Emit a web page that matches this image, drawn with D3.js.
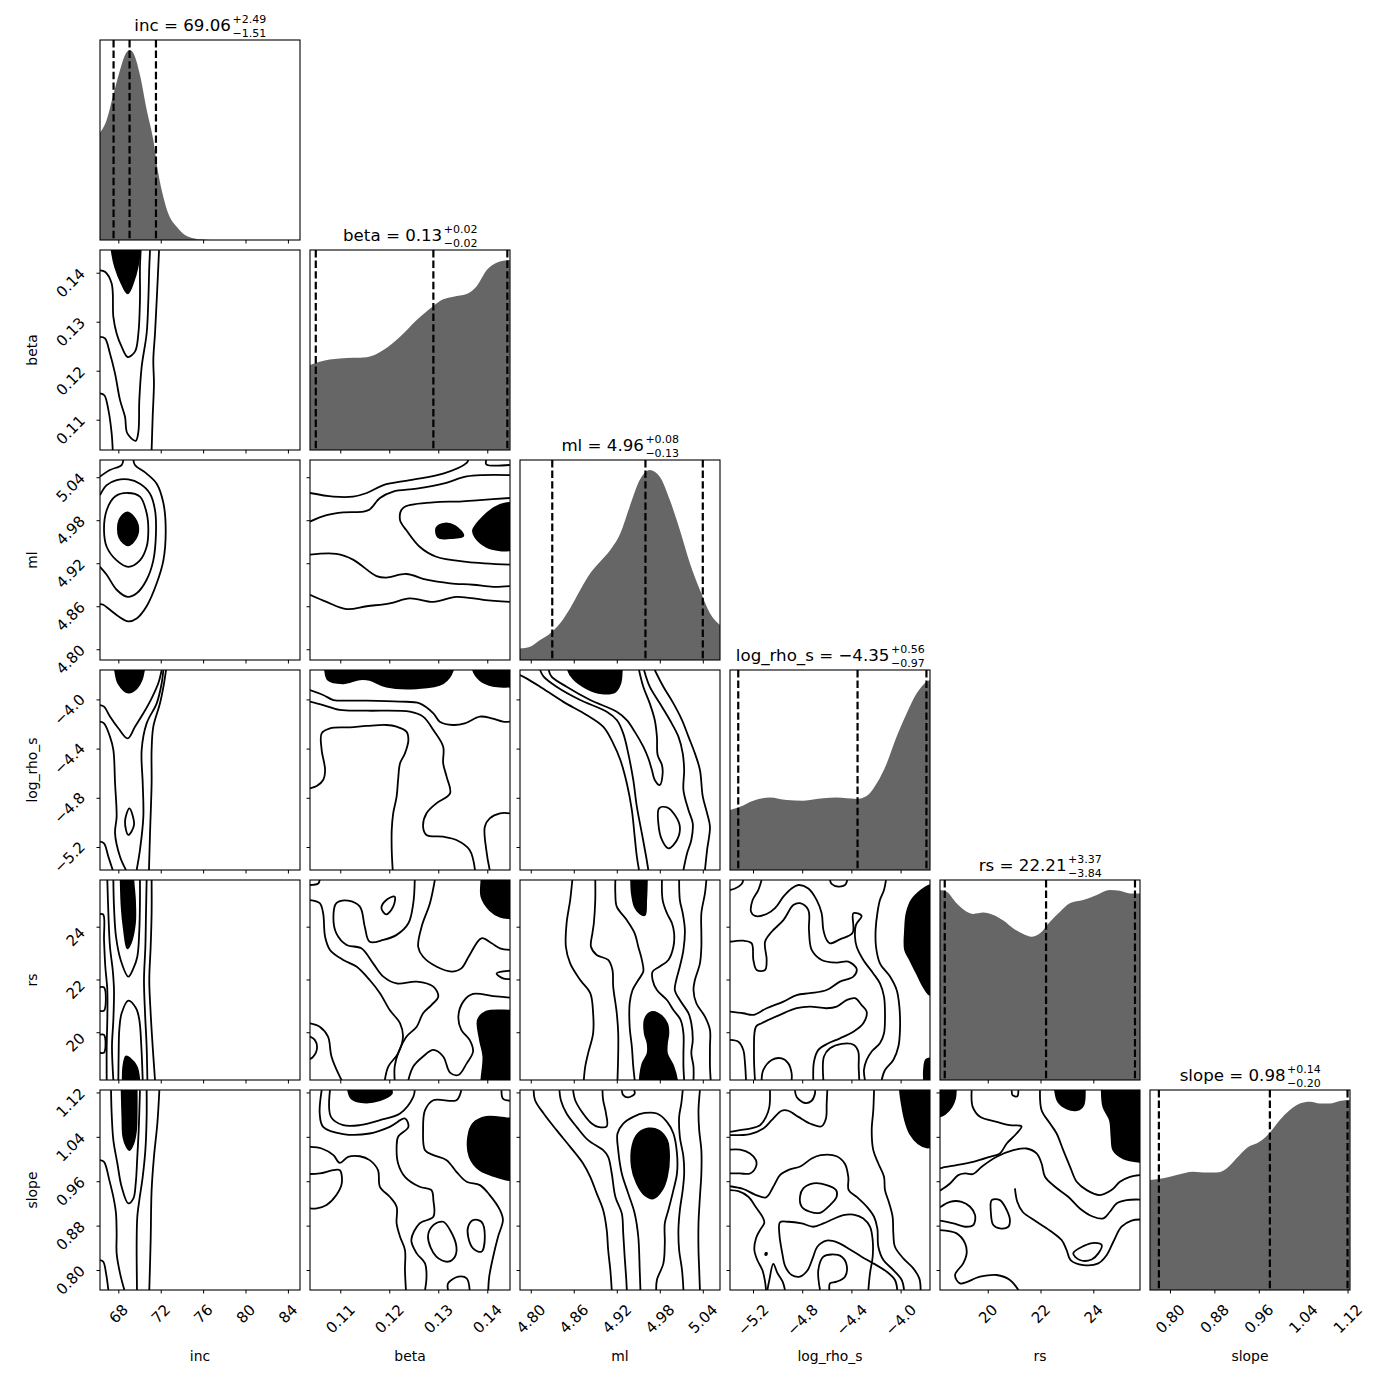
<!DOCTYPE html>
<html><head><meta charset="utf-8">
<script src="https://cdn.jsdelivr.net/npm/d3@7"></script>
<style>body{margin:0;background:#fff}text{font-family:"DejaVu Sans",sans-serif;fill:#000}</style>
</head><body><svg id="c" width="1390" height="1390"></svg>
<script>
// ---------------- data ----------------
const params = ["inc","beta","ml","log_rho_s","rs","slope"];
const ranges = [[66.27,85.14],[0.10382,0.14464],[4.785,5.064],[-5.387,-3.761],[18.19,25.77],[0.764,1.1244]];
const ticks = [[68,72,76,80,84],[0.11,0.12,0.13,0.14],[4.80,4.86,4.92,4.98,5.04],[-5.2,-4.8,-4.4,-4.0],[20,22,24],[0.80,0.88,0.96,1.04,1.12]];
const tickFormats = [".0f",".2f",".2f",".1f",".0f",".2f"];
const q16 = [67.55,0.1050,4.83,-5.32,18.37,0.78];
const q50 = [69.06,0.1290,4.96,-4.35,22.21,0.98];
const q84 = [71.55,0.1441,5.04,-3.79,25.58,1.12];

// histogram outlines [value, relative height]
const hist_inc = [[66.27,0.565],[66.90,0.632],[67.52,0.763],[68.16,0.895],[68.63,0.974],[69.10,1.0],[69.57,0.965],[70.04,0.868],[70.68,0.684],[71.30,0.526],[71.77,0.351],[72.24,0.228],[72.71,0.140],[73.51,0.070],[74.29,0.026],[75.07,0.009],[76.02,0.002],[76.65,0],[85.14,0]];
const hist_beta = [[0.1038,0.447],[0.1058,0.465],[0.1099,0.482],[0.1154,0.488],[0.1188,0.526],[0.1222,0.596],[0.1256,0.684],[0.1290,0.758],[0.1310,0.793],[0.1331,0.807],[0.1358,0.821],[0.1378,0.860],[0.1399,0.947],[0.1419,0.986],[0.1446,1.0]];
const hist_ml = [[4.785,0.061],[4.799,0.070],[4.813,0.105],[4.827,0.140],[4.841,0.193],[4.855,0.272],[4.869,0.368],[4.883,0.456],[4.897,0.518],[4.911,0.579],[4.925,0.667],[4.938,0.807],[4.952,0.947],[4.966,1.0],[4.980,0.965],[4.994,0.842],[5.008,0.684],[5.022,0.509],[5.036,0.368],[5.050,0.246],[5.064,0.184]];
const hist_lr = [[-5.387,0.316],[-5.306,0.333],[-5.198,0.365],[-5.062,0.382],[-4.926,0.368],[-4.791,0.365],[-4.628,0.377],[-4.520,0.381],[-4.357,0.374],[-4.276,0.389],[-4.194,0.456],[-4.113,0.561],[-4.032,0.702],[-3.950,0.825],[-3.869,0.930],[-3.788,0.991],[-3.761,1.0]];
const hist_rs = [[18.19,1.0],[18.44,0.991],[18.82,0.930],[19.20,0.886],[19.45,0.874],[19.83,0.881],[20.21,0.868],[20.59,0.839],[20.97,0.798],[21.35,0.768],[21.66,0.754],[21.98,0.772],[22.36,0.833],[22.74,0.886],[23.11,0.930],[23.62,0.947],[24.13,0.974],[24.63,1.0],[25.01,0.996],[25.39,0.982],[25.77,0.982]];
const hist_slope = [[0.764,0.579],[0.788,0.588],[0.812,0.605],[0.842,0.623],[0.866,0.618],[0.884,0.618],[0.902,0.640],[0.920,0.693],[0.938,0.746],[0.962,0.781],[0.980,0.828],[0.998,0.895],[1.016,0.947],[1.034,0.982],[1.052,0.991],[1.070,0.982],[1.088,0.982],[1.106,0.995],[1.124,1.0]];

// contours: t = "L" open line, "O" closed loop, "F" filled region; p = [x value, y value]
const c_inc_beta = [
 {t:"F",p:[[67.37,0.1446],[67.69,0.1412],[68.31,0.1378],[68.88,0.1358],[69.42,0.1381],[69.82,0.1412],[70.04,0.1446],[70.1,0.147],[67.3,0.147]]},
 {t:"L",p:[[66.27,0.1405],[66.74,0.1402],[67.37,0.1378],[67.53,0.1310],[67.84,0.1276],[68.31,0.1249],[68.88,0.1228],[69.57,0.1239],[69.89,0.1276],[70.04,0.1344],[70.04,0.1412],[70.11,0.1446]]},
 {t:"L",p:[[66.27,0.1269],[66.74,0.1266],[67.21,0.1235],[67.69,0.1194],[68.16,0.1140],[68.63,0.1106],[68.85,0.1072],[69.64,0.1057],[69.89,0.1075],[69.98,0.1140],[70.20,0.1208],[70.67,0.1276],[70.83,0.1344],[70.92,0.1412],[70.99,0.1446]]},
 {t:"L",p:[[66.27,0.1154],[66.68,0.1150],[67.06,0.1120],[67.37,0.1072],[67.47,0.1038]]},
 {t:"L",p:[[71.14,0.1038],[71.24,0.1106],[71.36,0.1174],[71.30,0.1222],[71.46,0.1276],[71.62,0.1344],[71.77,0.1412],[71.84,0.1446]]}
];
const c_inc_ml = [
 {t:"F",p:[[68.09,4.980],[68.85,4.991],[69.73,4.978],[69.79,4.959],[68.94,4.945],[68.09,4.956]]},
 {t:"O",p:[[66.65,4.966],[66.90,4.994],[67.69,5.013],[68.88,5.018],[70.04,5.013],[70.67,4.990],[70.83,4.966],[70.67,4.943],[70.04,4.924],[68.94,4.915],[67.84,4.924],[66.90,4.943]]},
 {t:"L",p:[[66.27,5.015],[66.90,5.029],[67.84,5.036],[68.94,5.037],[70.04,5.031],[70.99,5.017],[71.46,4.994],[71.55,4.962],[71.30,4.924],[70.67,4.897],[69.73,4.878],[68.88,4.873],[67.84,4.883],[66.90,4.904],[66.27,4.915]]},
 {t:"L",p:[[66.27,5.041],[67.21,5.050],[68.31,5.057],[68.47,5.064]]},
 {t:"L",p:[[69.42,5.064],[69.57,5.057],[70.67,5.045],[71.62,5.031],[72.25,5.004],[72.47,4.966],[72.25,4.924],[71.62,4.892],[70.67,4.860],[69.73,4.843],[68.94,4.839],[68.0,4.846],[67.21,4.855],[66.58,4.862],[66.27,4.863]]}
];
const c_inc_lr = [
 {t:"F",p:[[67.69,-3.761],[68.0,-3.869],[68.94,-3.945],[69.73,-3.910],[70.20,-3.842],[70.42,-3.761],[70.5,-3.70],[67.6,-3.70]]},
 {t:"L",p:[[66.27,-4.046],[66.65,-4.059],[67.21,-4.140],[68.0,-4.235],[68.88,-4.317],[69.57,-4.222],[70.36,-4.113],[71.14,-3.991],[71.77,-3.869],[72.09,-3.761]]},
 {t:"L",p:[[66.27,-4.181],[66.65,-4.195],[67.21,-4.303],[67.53,-4.411],[67.69,-4.682],[67.84,-4.953],[67.69,-5.089],[68.16,-5.279],[68.72,-5.387]]},
 {t:"L",p:[[69.73,-5.387],[70.04,-5.224],[70.36,-4.953],[70.30,-4.682],[70.20,-4.411],[70.67,-4.195],[71.62,-4.032],[72.09,-3.869],[72.25,-3.761]]},
 {t:"L",p:[[70.89,-5.387],[70.99,-5.089],[71.14,-4.682],[71.14,-4.411],[71.30,-4.222],[71.93,-4.032],[72.31,-3.869],[72.50,-3.761]]},
 {t:"O",p:[[69.04,-4.886],[69.48,-5.021],[68.94,-5.102],[68.63,-4.994]]},
 {t:"L",p:[[66.27,-5.157],[66.65,-5.170],[67.06,-5.279],[67.47,-5.387]]}
];
const c_inc_rs = [
 {t:"F",p:[[68.22,25.77],[68.31,24.76],[68.53,23.88],[68.85,23.18],[69.16,23.37],[69.57,24.13],[69.57,25.01],[69.42,25.77],[69.42,26.2],[68.2,26.2]]},
 {t:"F",p:[[68.41,18.19],[68.47,18.70],[68.72,19.08],[69.10,19.01],[69.73,18.70],[69.98,18.19],[70.0,17.8],[68.4,17.8]]},
 {t:"L",p:[[67.53,25.77],[67.59,24.76],[67.78,23.62],[68.22,22.74],[68.94,22.11],[69.42,22.42],[69.79,22.86],[69.98,23.88],[70.04,25.01],[70.04,25.77]]},
 {t:"L",p:[[68.0,18.19],[68.03,19.20],[68.09,20.09],[68.31,20.72],[68.94,21.20],[69.67,20.91],[69.98,20.47],[70.17,19.46],[70.30,18.19]]},
 {t:"L",p:[[66.96,25.77],[67.06,24.51],[67.21,23.24],[67.47,22.36],[67.59,21.60],[67.53,20.47],[67.40,19.46],[67.53,18.19]]},
 {t:"L",p:[[66.27,24.48],[66.58,24.46],[66.65,23.50],[66.77,22.49],[66.96,21.60],[66.96,20.47],[66.90,19.46],[66.90,18.19]]},
 {t:"L",p:[[70.67,25.77],[70.61,24.51],[70.55,23.24],[70.42,21.98],[70.52,20.72],[70.67,19.46],[70.74,18.19]]},
 {t:"L",p:[[71.14,25.77],[71.14,24.51],[71.05,23.24],[70.92,21.98],[71.05,20.72],[71.24,19.46],[71.46,18.19]]},
 {t:"L",p:[[66.2,21.70],[66.65,21.70],[66.65,20.82],[66.2,20.82]]},
 {t:"L",p:[[66.2,19.90],[66.65,19.90],[66.65,19.23],[66.2,19.23]]}
];
const c_inc_slope = [
 {t:"F",p:[[68.31,1.124],[68.38,1.076],[68.47,1.040],[68.79,1.022],[69.04,1.016],[69.42,1.028],[69.67,1.052],[69.73,1.088],[69.73,1.124],[69.73,1.135],[68.3,1.135]]},
 {t:"L",p:[[67.31,1.124],[67.37,1.082],[67.53,1.034],[67.91,0.992],[68.31,0.950],[68.94,0.920],[69.42,0.929],[69.64,0.956],[69.79,1.004],[69.92,1.052],[70.04,1.124]]},
 {t:"L",p:[[66.27,0.998],[66.65,0.995],[67.15,0.962],[67.59,0.926],[67.78,0.902],[67.84,0.866],[67.84,0.830],[68.16,0.794],[68.57,0.764]]},
 {t:"L",p:[[70.67,1.124],[70.67,1.076],[70.55,1.016],[70.30,0.968],[69.98,0.926],[69.79,0.896],[69.73,0.854],[69.76,0.764]]},
 {t:"L",p:[[66.27,0.818],[66.58,0.815],[66.84,0.794],[67.06,0.764]]},
 {t:"L",p:[[71.87,1.124],[71.68,1.064],[71.36,1.004],[71.14,0.944],[71.05,0.854],[70.92,0.764]]}
];
const c_beta_ml = [
 {t:"F",p:[[0.1446,5.004],[0.1419,4.999],[0.1392,4.985],[0.1371,4.966],[0.1375,4.957],[0.1398,4.943],[0.1426,4.938],[0.1446,4.938],[0.147,4.94],[0.147,5.0]]},
 {t:"F",p:[[0.1296,4.969],[0.1310,4.975],[0.1334,4.972],[0.1351,4.958],[0.1324,4.955],[0.1300,4.956]]},
 {t:"L",p:[[0.1038,5.018],[0.1086,5.013],[0.1126,5.013],[0.1154,5.018],[0.1188,5.029],[0.1242,5.036],[0.1310,5.045],[0.1358,5.060],[0.1361,5.064]]},
 {t:"L",p:[[0.1398,5.064],[0.1398,5.058],[0.1446,5.057]]},
 {t:"L",p:[[0.1038,4.978],[0.1072,4.987],[0.1106,4.991],[0.1147,4.992],[0.1160,4.995],[0.1181,5.011],[0.1208,5.020],[0.1256,5.024],[0.1310,5.031],[0.1358,5.041],[0.1392,5.043],[0.1446,5.043]]},
 {t:"L",p:[[0.1446,5.011],[0.1385,5.008],[0.1344,5.006],[0.1290,5.005],[0.1228,4.997],[0.1222,4.980],[0.1235,4.966],[0.1262,4.943],[0.1296,4.929],[0.1358,4.922],[0.1446,4.918]]},
 {t:"L",p:[[0.1038,4.932],[0.1092,4.933],[0.1126,4.925],[0.1174,4.902],[0.1194,4.900],[0.1235,4.905],[0.1276,4.897],[0.1324,4.892],[0.1371,4.890],[0.1412,4.887],[0.1446,4.888]]},
 {t:"L",p:[[0.1038,4.876],[0.1072,4.866],[0.1113,4.856],[0.1154,4.860],[0.1201,4.864],[0.1242,4.871],[0.1290,4.866],[0.1337,4.873],[0.1392,4.869],[0.1446,4.866]]}
];
const c_beta_lr = [
 {t:"F",p:[[0.1069,-3.761],[0.1075,-3.842],[0.1106,-3.869],[0.1140,-3.837],[0.1160,-3.842],[0.1194,-3.897],[0.1256,-3.910],[0.1310,-3.869],[0.1330,-3.761],[0.1330,-3.7],[0.1069,-3.7]]},
 {t:"F",p:[[0.1371,-3.761],[0.1385,-3.842],[0.1412,-3.891],[0.1446,-3.897],[0.147,-3.897],[0.147,-3.7],[0.1371,-3.7]]},
 {t:"L",p:[[0.1038,-3.924],[0.1065,-3.964],[0.1086,-4.005],[0.1120,-4.010],[0.1154,-4.010],[0.1222,-4.018],[0.1262,-4.032],[0.1290,-4.113],[0.1303,-4.181],[0.1330,-4.208],[0.1354,-4.195],[0.1385,-4.140],[0.1409,-4.154],[0.1432,-4.181],[0.1446,-4.181]]},
 {t:"L",p:[[0.1038,-4.018],[0.1065,-4.046],[0.1099,-4.086],[0.1154,-4.092],[0.1242,-4.100],[0.1269,-4.140],[0.1290,-4.249],[0.1310,-4.384],[0.1310,-4.520],[0.1317,-4.628],[0.1324,-4.764],[0.1296,-4.845],[0.1276,-4.926],[0.1269,-5.035],[0.1276,-5.102],[0.1310,-5.116],[0.1337,-5.143],[0.1364,-5.224],[0.1375,-5.387]]},
 {t:"L",p:[[0.1038,-4.723],[0.1052,-4.704],[0.1065,-4.655],[0.1069,-4.574],[0.1062,-4.411],[0.1062,-4.276],[0.1079,-4.235],[0.1120,-4.227],[0.1154,-4.216],[0.1194,-4.208],[0.1215,-4.222],[0.1235,-4.262],[0.1239,-4.330],[0.1232,-4.439],[0.1222,-4.520],[0.1218,-4.655],[0.1215,-4.791],[0.1208,-4.926],[0.1205,-5.062],[0.1205,-5.224],[0.1207,-5.387]]},
 {t:"L",p:[[0.1446,-4.926],[0.1426,-4.926],[0.1405,-4.967],[0.1395,-5.035],[0.1398,-5.224],[0.1405,-5.387]]}
];
const c_beta_rs = [
 {t:"F",p:[[0.1388,25.77],[0.1388,25.14],[0.1405,24.63],[0.1426,24.38],[0.1446,24.32],[0.147,24.32],[0.147,26.2],[0.1388,26.2]]},
 {t:"F",p:[[0.147,20.82],[0.1446,20.82],[0.1398,20.78],[0.1381,20.47],[0.1385,19.71],[0.1392,19.08],[0.1388,18.19],[0.1388,17.8],[0.147,17.8]]},
 {t:"L",p:[[0.1038,25.58],[0.1055,25.64],[0.1058,25.77]]},
 {t:"O",p:[[0.1184,24.70],[0.1194,25.01],[0.1211,25.14],[0.1208,24.76],[0.1194,24.47]]},
 {t:"L",p:[[0.1038,25.01],[0.1058,24.89],[0.1065,24.51],[0.1069,23.62],[0.1079,23.12],[0.1106,22.74],[0.1133,22.49],[0.1160,21.98],[0.1181,21.48],[0.1201,20.84],[0.1222,20.34],[0.1228,19.83],[0.1218,19.20],[0.1198,18.70],[0.1191,18.19]]},
 {t:"L",p:[[0.1252,25.77],[0.1249,24.89],[0.1239,24.13],[0.1215,23.69],[0.1188,23.50],[0.1160,23.43],[0.1150,24.00],[0.1140,24.76],[0.1116,24.99],[0.1092,24.89],[0.1086,24.38],[0.1092,23.75],[0.1113,23.31],[0.1143,23.18],[0.1167,22.61],[0.1188,22.11],[0.1215,21.85],[0.1256,21.92],[0.1290,21.73],[0.1300,21.35],[0.1286,21.03],[0.1269,20.72],[0.1256,20.21],[0.1235,19.83],[0.1218,19.20],[0.1211,18.70],[0.1211,18.19]]},
 {t:"L",p:[[0.1293,25.77],[0.1283,24.89],[0.1266,24.00],[0.1259,23.24],[0.1269,22.86],[0.1296,22.49],[0.1327,22.30],[0.1347,22.42],[0.1364,22.93],[0.1388,23.56],[0.1409,23.37],[0.1426,23.18],[0.1446,23.12]]},
 {t:"L",p:[[0.147,22.33],[0.1446,22.33],[0.1419,22.23],[0.1432,22.04],[0.1446,22.01],[0.147,22.01]]},
 {t:"L",p:[[0.1446,21.31],[0.1412,21.37],[0.1371,21.45],[0.1351,21.16],[0.1341,20.59],[0.1347,20.09],[0.1364,19.71],[0.1371,19.27],[0.1358,18.82],[0.1341,18.38],[0.1324,18.47],[0.1310,19.08],[0.1290,19.33],[0.1269,19.08],[0.1249,18.70],[0.1239,18.19]]},
 {t:"L",p:[[0.1038,20.34],[0.1058,20.21],[0.1075,19.83],[0.1082,19.08],[0.1099,18.32],[0.1103,18.19]]},
 {t:"L",p:[[0.1030,19.90],[0.1048,19.71],[0.1052,19.33],[0.1041,19.01],[0.1030,19.01]]}
];
const c_beta_slope = [
 {t:"F",p:[[0.1116,1.124],[0.1123,1.109],[0.1147,1.102],[0.1181,1.106],[0.1205,1.118],[0.1205,1.124],[0.1205,1.135],[0.1116,1.135]]},
 {t:"F",p:[[0.147,1.073],[0.1446,1.073],[0.1398,1.076],[0.1371,1.064],[0.1361,1.040],[0.1364,1.004],[0.1385,0.980],[0.1419,0.968],[0.1446,0.962],[0.147,0.962]]},
 {t:"L",p:[[0.1429,1.124],[0.1432,1.109],[0.1446,1.105]]},
 {t:"L",p:[[0.1079,1.124],[0.1081,1.076],[0.1106,1.061],[0.1140,1.061],[0.1181,1.070],[0.1222,1.082],[0.1249,1.112],[0.1252,1.124]]},
 {t:"L",p:[[0.1062,1.124],[0.1058,1.082],[0.1065,1.058],[0.1106,1.045],[0.1160,1.046],[0.1201,1.058],[0.1232,1.073],[0.1239,1.058],[0.1218,1.040],[0.1215,1.022],[0.1218,0.992],[0.1232,0.968],[0.1262,0.950],[0.1286,0.944],[0.1290,0.926],[0.1290,0.896],[0.1262,0.884],[0.1245,0.854],[0.1256,0.830],[0.1273,0.812],[0.1276,0.788],[0.1273,0.764]]},
 {t:"L",p:[[0.1038,1.022],[0.1062,1.019],[0.1086,1.007],[0.1099,0.993],[0.1116,1.004],[0.1140,1.005],[0.1160,0.998],[0.1177,0.980],[0.1181,0.950],[0.1201,0.932],[0.1215,0.914],[0.1215,0.884],[0.1222,0.860],[0.1232,0.836],[0.1232,0.800],[0.1234,0.764]]},
 {t:"L",p:[[0.1038,0.973],[0.1058,0.974],[0.1086,0.980],[0.1099,0.980],[0.1103,0.956],[0.1092,0.935],[0.1072,0.917],[0.1052,0.911],[0.1038,0.911]]},
 {t:"L",p:[[0.1347,1.124],[0.1337,1.106],[0.1290,1.106],[0.1273,1.088],[0.1269,1.052],[0.1273,1.016],[0.1290,1.007],[0.1317,0.998],[0.1337,0.977],[0.1358,0.959],[0.1385,0.953],[0.1405,0.935],[0.1426,0.908],[0.1432,0.890],[0.1422,0.860],[0.1412,0.824],[0.1404,0.788],[0.1402,0.764]]},
 {t:"O",p:[[0.1279,0.860],[0.1290,0.881],[0.1310,0.887],[0.1324,0.872],[0.1337,0.842],[0.1334,0.824],[0.1320,0.815],[0.1296,0.824]]},
 {t:"O",p:[[0.1361,0.878],[0.1371,0.890],[0.1388,0.887],[0.1395,0.860],[0.1388,0.833],[0.1371,0.839],[0.1361,0.860]]},
 {t:"L",p:[[0.1320,0.764],[0.1320,0.776],[0.1341,0.788],[0.1358,0.785],[0.1364,0.764]]}
];
const c_ml_lr = [
 {t:"F",p:[[4.852,-3.761],[4.859,-3.829],[4.878,-3.910],[4.899,-3.951],[4.918,-3.937],[4.925,-3.869],[4.927,-3.761],[4.927,-3.70],[4.852,-3.70]]},
 {t:"L",p:[[4.785,-3.802],[4.794,-3.829],[4.813,-3.897],[4.845,-4.018],[4.878,-4.127],[4.901,-4.222],[4.915,-4.357],[4.925,-4.493],[4.934,-4.682],[4.941,-4.899],[4.945,-5.116],[4.948,-5.279],[4.951,-5.387]]},
 {t:"L",p:[[4.813,-3.761],[4.818,-3.815],[4.836,-3.897],[4.869,-4.005],[4.906,-4.100],[4.920,-4.168],[4.929,-4.276],[4.936,-4.439],[4.943,-4.655],[4.948,-4.872],[4.955,-5.089],[4.961,-5.279],[4.964,-5.387]]},
 {t:"L",p:[[4.825,-3.761],[4.829,-3.815],[4.850,-3.897],[4.883,-4.005],[4.920,-4.100],[4.934,-4.168],[4.945,-4.262],[4.957,-4.384],[4.964,-4.479],[4.969,-4.574],[4.973,-4.655],[4.980,-4.696],[4.984,-4.601],[4.983,-4.533],[4.977,-4.452],[4.976,-4.303],[4.973,-4.168],[4.966,-4.032],[4.957,-3.897],[4.951,-3.761]]},
 {t:"L",p:[[4.958,-3.761],[4.966,-3.897],[4.980,-4.032],[4.994,-4.168],[5.006,-4.303],[5.012,-4.439],[5.014,-4.574],[5.013,-4.737],[5.020,-4.899],[5.026,-5.008],[5.024,-5.143],[5.018,-5.252],[5.013,-5.387]]},
 {t:"L",p:[[4.973,-3.761],[4.985,-3.897],[4.999,-4.032],[5.011,-4.168],[5.020,-4.303],[5.029,-4.439],[5.036,-4.574],[5.040,-4.791],[5.046,-4.926],[5.050,-5.035],[5.046,-5.224],[5.043,-5.387]]},
 {t:"O",p:[[4.979,-4.886],[4.990,-4.878],[5.001,-4.940],[5.008,-5.035],[5.004,-5.143],[4.992,-5.211],[4.983,-5.143],[4.978,-5.008]]}
];
const c_ml_rs = [
 {t:"L",p:[[4.858,25.77],[4.855,25.01],[4.850,24.13],[4.849,23.24],[4.855,22.61],[4.869,21.98],[4.883,21.48],[4.887,20.72],[4.887,19.96],[4.880,19.20],[4.876,18.70],[4.874,18.19]]},
 {t:"L",p:[[4.890,25.77],[4.890,25.01],[4.888,24.13],[4.886,23.75],[4.884,23.24],[4.892,22.93],[4.908,22.74],[4.914,22.36],[4.915,21.73],[4.920,20.72],[4.922,19.96],[4.922,19.20],[4.921,18.19]]},
 {t:"L",p:[[4.918,25.77],[4.918,25.26],[4.920,24.76],[4.934,24.25],[4.945,23.75],[4.950,23.24],[4.955,22.74],[4.957,22.30],[4.950,21.98],[4.942,21.60],[4.938,21.10],[4.938,20.21],[4.941,19.46],[4.943,18.70],[4.945,18.19]]},
 {t:"F",p:[[4.940,25.77],[4.941,25.26],[4.945,24.76],[4.952,24.51],[4.959,24.44],[4.961,25.01],[4.962,25.77],[4.962,26.2],[4.940,26.2]]},
 {t:"F",p:[[4.952,18.19],[4.956,18.82],[4.963,19.20],[4.963,19.58],[4.959,19.96],[4.959,20.47],[4.966,20.74],[4.977,20.72],[4.990,20.34],[4.992,19.96],[4.990,19.58],[4.990,19.20],[4.999,18.70],[5.004,18.19],[5.004,17.8],[4.952,17.8]]},
 {t:"L",p:[[4.983,25.77],[4.984,25.01],[4.990,24.51],[4.997,24.13],[5.000,23.75],[4.999,23.24],[4.992,22.74],[4.980,22.49],[4.970,22.30],[4.970,21.98],[4.976,21.60],[4.990,21.22],[4.999,20.84],[5.009,20.47],[5.013,19.96],[5.013,19.20],[5.013,18.70],[5.014,18.19]]},
 {t:"L",p:[[5.007,25.77],[5.008,25.01],[5.012,24.51],[5.015,23.88],[5.013,23.12],[5.008,22.49],[5.003,21.98],[5.001,21.60],[5.008,21.22],[5.020,20.72],[5.024,20.34],[5.026,19.71],[5.024,19.20],[5.027,18.70],[5.027,18.19]]},
 {t:"L",p:[[5.045,25.77],[5.043,25.26],[5.038,24.51],[5.038,23.75],[5.038,23.24],[5.036,22.61],[5.029,21.98],[5.027,21.60],[5.031,21.10],[5.043,20.59],[5.050,20.09],[5.050,19.46],[5.050,18.70],[5.051,18.19]]}
];
const c_ml_slope = [
 {t:"L",p:[[4.804,1.124],[4.806,1.106],[4.818,1.082],[4.836,1.052],[4.855,1.022],[4.873,0.992],[4.883,0.968],[4.892,0.938],[4.901,0.908],[4.906,0.872],[4.908,0.836],[4.911,0.800],[4.913,0.764]]},
 {t:"L",p:[[4.840,1.124],[4.842,1.106],[4.850,1.082],[4.864,1.058],[4.880,1.034],[4.901,1.016],[4.908,1.004],[4.913,0.974],[4.918,0.932],[4.927,0.902],[4.929,0.866],[4.931,0.824],[4.933,0.788],[4.934,0.764]]},
 {t:"L",p:[[4.859,1.124],[4.862,1.106],[4.873,1.082],[4.885,1.064],[4.894,1.058],[4.906,1.059],[4.905,1.082],[4.901,1.106],[4.900,1.124]]},
 {t:"L",p:[[4.927,1.124],[4.929,1.115],[4.936,1.111],[4.945,1.118],[4.944,1.124]]},
 {t:"L",p:[[4.953,0.764],[4.952,0.800],[4.950,0.860],[4.945,0.902],[4.936,0.938],[4.927,0.974],[4.922,1.016],[4.921,1.046],[4.929,1.064],[4.943,1.076],[4.959,1.083],[4.976,1.082],[4.990,1.067],[4.999,1.046],[5.004,1.010],[5.004,0.974],[4.999,0.944],[4.992,0.908],[4.987,0.884],[4.987,0.848],[4.985,0.812],[4.976,0.782],[4.975,0.764]]},
 {t:"F",p:[[4.942,1.025],[4.950,1.046],[4.964,1.055],[4.978,1.052],[4.990,1.034],[4.993,1.004],[4.990,0.968],[4.983,0.944],[4.971,0.929],[4.959,0.935],[4.948,0.956],[4.941,0.986]]},
 {t:"L",p:[[5.012,1.124],[5.010,1.100],[5.007,1.076],[5.008,1.040],[5.013,1.004],[5.014,0.974],[5.012,0.944],[5.008,0.908],[5.006,0.872],[5.007,0.836],[5.011,0.800],[5.013,0.764]]},
 {t:"L",p:[[5.036,1.124],[5.034,1.088],[5.035,1.052],[5.038,1.016],[5.038,0.974],[5.036,0.932],[5.034,0.884],[5.034,0.836],[5.035,0.800],[5.036,0.764]]}
];
const c_lr_rs = [
 {t:"L",p:[[-5.387,25.39],[-5.346,25.45],[-5.292,25.62],[-5.279,25.77]]},
 {t:"L",p:[[-4.574,25.77],[-4.561,25.62],[-4.506,25.52],[-4.452,25.58],[-4.433,25.77]]},
 {t:"L",p:[[-5.130,25.77],[-5.157,25.39],[-5.203,25.01],[-5.216,24.57],[-5.184,24.41],[-5.089,24.48],[-5.021,24.70],[-4.953,25.14],[-4.886,25.45],[-4.831,25.58],[-4.750,25.45],[-4.682,25.01],[-4.642,24.51],[-4.628,23.88],[-4.601,23.50],[-4.574,23.37],[-4.493,23.52],[-4.390,23.77],[-4.384,24.51],[-4.317,24.41],[-4.363,24.07],[-4.371,23.62],[-4.357,23.24],[-4.303,22.74],[-4.222,22.23],[-4.168,21.85],[-4.135,21.35],[-4.127,20.72],[-4.135,19.96],[-4.168,19.58],[-4.235,19.27],[-4.276,18.95],[-4.298,18.57],[-4.290,18.19]]},
 {t:"L",p:[[-5.387,23.43],[-5.279,23.47],[-5.211,23.37],[-5.197,22.74],[-5.170,22.36],[-5.102,22.36],[-5.089,22.74],[-5.102,23.43],[-5.048,23.81],[-4.953,24.25],[-4.872,24.82],[-4.818,24.89],[-4.750,24.63],[-4.745,23.88],[-4.723,23.12],[-4.642,22.74],[-4.520,22.64],[-4.425,22.68],[-4.357,22.39],[-4.384,22.11],[-4.493,21.92],[-4.601,21.60],[-4.737,21.48],[-4.845,21.41],[-4.953,21.16],[-5.089,20.91],[-5.197,20.66],[-5.279,20.72],[-5.387,20.78]]},
 {t:"L",p:[[-5.387,19.71],[-5.319,19.64],[-5.279,19.33],[-5.265,18.82],[-5.257,18.19]]},
 {t:"L",p:[[-5.184,18.19],[-5.192,19.20],[-5.176,20.21],[-5.130,20.34],[-4.981,20.66],[-4.845,20.91],[-4.737,20.97],[-4.601,20.91],[-4.520,20.97],[-4.439,21.22],[-4.371,21.29],[-4.317,21.03],[-4.276,20.78],[-4.303,20.34],[-4.384,20.02],[-4.493,19.77],[-4.588,19.58],[-4.669,19.33],[-4.704,18.89],[-4.710,18.19]]},
 {t:"L",p:[[-5.130,18.19],[-5.116,18.57],[-5.048,18.95],[-4.967,19.01],[-4.913,18.82],[-4.886,18.44],[-4.886,18.19]]},
 {t:"L",p:[[-4.628,18.19],[-4.623,19.08],[-4.574,19.39],[-4.479,19.56],[-4.379,19.52],[-4.344,19.27],[-4.341,18.70],[-4.336,18.19]]},
 {t:"L",p:[[-4.119,25.77],[-4.135,25.39],[-4.168,25.01],[-4.189,24.51],[-4.203,23.88],[-4.200,23.24],[-4.168,22.61],[-4.086,22.11],[-4.032,21.60],[-4.010,20.97],[-4.005,20.09],[-4.018,19.46],[-4.059,18.95],[-4.127,18.57],[-4.154,18.19]]},
 {t:"F",p:[[-3.70,25.58],[-3.761,25.58],[-3.829,25.39],[-3.910,25.01],[-3.951,24.51],[-3.964,23.88],[-3.964,23.12],[-3.924,22.74],[-3.869,22.23],[-3.815,21.73],[-3.761,21.41],[-3.70,21.41]]},
 {t:"F",p:[[-3.70,19.01],[-3.761,19.01],[-3.794,18.95],[-3.810,18.57],[-3.810,18.19],[-3.810,17.8],[-3.70,17.8]]}
];
const c_lr_slope = [
 {t:"F",p:[[-4.005,1.124],[-3.991,1.100],[-3.964,1.070],[-3.924,1.046],[-3.856,1.028],[-3.788,1.021],[-3.761,1.021],[-3.70,1.021],[-3.70,1.135],[-4.005,1.135]]},
 {t:"L",p:[[-4.859,1.124],[-4.845,1.112],[-4.777,1.101],[-4.723,1.105],[-4.696,1.118],[-4.696,1.124]]},
 {t:"L",p:[[-5.062,1.124],[-5.067,1.094],[-5.094,1.076],[-5.143,1.061],[-5.224,1.055],[-5.306,1.052],[-5.387,1.049]]},
 {t:"L",p:[[-5.387,1.043],[-5.224,1.045],[-5.116,1.055],[-5.048,1.070],[-4.967,1.087],[-4.913,1.087],[-4.831,1.076],[-4.737,1.064],[-4.642,1.059],[-4.607,1.073],[-4.601,1.100],[-4.596,1.124]]},
 {t:"L",p:[[-5.387,1.017],[-5.306,1.017],[-5.224,1.010],[-5.176,0.998],[-5.176,0.986],[-5.224,0.974],[-5.306,0.974],[-5.387,0.974]]},
 {t:"L",p:[[-5.387,0.951],[-5.279,0.946],[-5.184,0.936],[-5.094,0.931],[-5.035,0.950],[-4.981,0.971],[-4.905,0.981],[-4.812,0.987],[-4.723,1.001],[-4.650,1.007],[-4.520,1.005],[-4.452,0.991],[-4.425,0.967],[-4.422,0.944],[-4.352,0.931],[-4.270,0.913],[-4.216,0.896],[-4.189,0.875],[-4.181,0.842],[-4.140,0.818],[-4.059,0.800],[-3.991,0.782],[-3.972,0.764]]},
 {t:"L",p:[[-5.387,0.944],[-5.319,0.942],[-5.238,0.932],[-5.176,0.913],[-5.121,0.895],[-5.108,0.885],[-5.143,0.872],[-5.176,0.857],[-5.189,0.836],[-5.165,0.818],[-5.124,0.800],[-5.102,0.779],[-5.094,0.764]]},
 {t:"L",p:[[-5.083,0.764],[-5.067,0.782],[-5.035,0.811],[-5.002,0.795],[-4.959,0.779],[-4.940,0.764]]},
 {t:"L",p:[[-4.262,0.764],[-4.249,0.794],[-4.227,0.824],[-4.227,0.854],[-4.249,0.878],[-4.303,0.893],[-4.384,0.900],[-4.466,0.899],[-4.547,0.892],[-4.628,0.884],[-4.710,0.878],[-4.804,0.884],[-4.913,0.887],[-4.981,0.886],[-4.986,0.866],[-4.962,0.830],[-4.937,0.806],[-4.886,0.791],[-4.818,0.788],[-4.758,0.799],[-4.715,0.821],[-4.677,0.842],[-4.601,0.853],[-4.506,0.849],[-4.411,0.837],[-4.317,0.824],[-4.222,0.812],[-4.113,0.797],[-4.046,0.782],[-4.027,0.764]]},
 {t:"O",p:[[-4.818,0.932],[-4.791,0.947],[-4.710,0.956],[-4.601,0.953],[-4.525,0.944],[-4.520,0.932],[-4.574,0.917],[-4.655,0.903],[-4.737,0.905],[-4.804,0.914]]},
 {t:"F",p:[[-5.100,0.830],[-5.089,0.831],[-5.088,0.828],[-5.098,0.827]]},
 {t:"L",p:[[-4.655,0.764],[-4.669,0.800],[-4.628,0.824],[-4.561,0.828],[-4.479,0.824],[-4.439,0.809],[-4.452,0.788],[-4.520,0.779],[-4.574,0.776],[-4.579,0.764]]},
 {t:"L",p:[[-4.216,1.124],[-4.222,1.088],[-4.235,1.052],[-4.222,1.016],[-4.181,0.992],[-4.135,0.968],[-4.127,0.944],[-4.092,0.920],[-4.065,0.896],[-4.059,0.866],[-4.046,0.842],[-3.978,0.821],[-3.897,0.803],[-3.848,0.785],[-3.837,0.764]]}
];
const c_rs_slope = [
 {t:"F",p:[[18.79,1.135],[18.79,1.124],[18.76,1.109],[18.63,1.094],[18.38,1.081],[18.19,1.077],[17.9,1.077],[17.9,1.135]]},
 {t:"F",p:[[22.55,1.135],[22.55,1.124],[22.67,1.103],[22.99,1.091],[23.37,1.088],[23.62,1.097],[23.68,1.124],[23.68,1.135]]},
 {t:"F",p:[[24.32,1.135],[24.32,1.124],[24.38,1.094],[24.63,1.070],[24.69,1.040],[24.76,1.016],[25.14,1.001],[25.77,0.995],[26.0,0.995],[26.0,1.135]]},
 {t:"L",p:[[20.91,1.124],[20.94,1.115],[21.12,1.113],[21.16,1.124]]},
 {t:"L",p:[[19.39,1.124],[19.43,1.094],[19.71,1.076],[20.34,1.067],[20.84,1.061],[21.28,1.059],[21.09,1.046],[20.72,1.028],[20.46,1.010],[20.08,1.004],[19.45,0.995],[18.82,0.989],[18.32,0.985],[18.19,0.983]]},
 {t:"L",p:[[21.98,1.124],[22.04,1.088],[22.36,1.064],[22.61,1.046],[22.86,1.016],[23.12,0.986],[23.37,0.959],[23.75,0.944],[24.25,0.935],[24.69,0.944],[25.01,0.959],[25.39,0.968],[25.77,0.971]]},
 {t:"L",p:[[18.19,0.943],[18.57,0.956],[18.88,0.971],[19.14,0.974],[19.45,0.973],[19.77,0.986],[20.34,1.004],[20.97,1.016],[21.47,1.019],[21.85,1.010],[22.04,0.992],[22.17,0.968],[22.55,0.950],[23.05,0.932],[23.49,0.911],[24.00,0.896],[24.38,0.893],[24.63,0.905],[24.88,0.920],[25.26,0.926],[25.77,0.927]]},
 {t:"L",p:[[18.19,0.913],[18.57,0.923],[19.01,0.923],[19.33,0.914],[19.52,0.899],[19.45,0.881],[19.14,0.878],[18.70,0.884],[18.19,0.889]]},
 {t:"O",p:[[20.15,0.926],[20.46,0.926],[20.72,0.908],[20.84,0.890],[20.78,0.878],[20.46,0.875],[20.21,0.881],[20.12,0.902]]},
 {t:"L",p:[[18.19,0.872],[18.82,0.866],[19.14,0.848],[19.20,0.830],[19.07,0.812],[18.76,0.791],[18.95,0.776],[19.71,0.788],[20.34,0.791],[20.84,0.782],[21.16,0.764]]},
 {t:"L",p:[[21.03,0.947],[21.12,0.923],[21.32,0.905],[21.85,0.887],[22.42,0.869],[22.80,0.854],[22.99,0.836],[23.14,0.818],[23.62,0.809],[24.19,0.812],[24.51,0.827],[24.76,0.851],[25.07,0.878],[25.45,0.889],[25.77,0.891]]},
 {t:"O",p:[[23.24,0.830],[23.62,0.843],[24.06,0.849],[24.32,0.845],[24.19,0.830],[23.94,0.819],[23.49,0.818]]}
];

// ---------------- drawing ----------------
const svg = d3.select("#c");
const P = 200, G = 210, X0 = 100, Y0 = 40;
const FS = 15;
const sX = ranges.map((r,i)=>d3.scaleLinear().domain(r).range([X0+G*i, X0+G*i+P]));
const sY = ranges.map((r,j)=>d3.scaleLinear().domain(r).range([Y0+G*j+P, Y0+G*j]));
const defs = svg.append("defs");
for (let j=0;j<6;j++) for (let i=0;i<=j;i++) {
  defs.append("clipPath").attr("id",`cp${i}${j}`).append("rect")
    .attr("x",X0+G*i).attr("y",Y0+G*j).attr("width",P).attr("height",P);
}

// histograms
const hists = [hist_inc,hist_beta,hist_ml,hist_lr,hist_rs,hist_slope];
hists.forEach((h,i)=>{
  const x = sX[i];
  const hy = d3.scaleLinear().domain([0,1/0.95]).range([Y0+G*i+P, Y0+G*i]);
  const g = svg.append("g").attr("clip-path",`url(#cp${i}${i})`);
  const area = d3.area().x(d=>x(d[0])).y0(hy(0)).y1(d=>hy(d[1])).curve(d3.curveMonotoneX);
  g.append("path").attr("d",area(h)).attr("fill","#666666");
  [q16[i],q50[i],q84[i]].forEach(q=>{
    g.append("line").attr("x1",x(q)).attr("x2",x(q)).attr("y1",Y0+G*i).attr("y2",Y0+G*i+P)
     .attr("stroke","#000").attr("stroke-width",2.2).attr("stroke-dasharray","7.4,3.2");
  });
  // title
  const f2 = d3.format(".2f");
  const cx = X0+G*i+P/2, top = Y0+G*i;
  const tg = svg.append("g");
  const m = tg.append("text").attr("font-size",16.67).attr("y",top-9.3).text(`${params[i]} = ${f2(q50[i])}`);
  const sp = tg.append("text").attr("font-size",11).attr("y",top-16.6).text("+"+f2(q84[i]-q50[i]));
  const sb = tg.append("text").attr("font-size",11).attr("y",top-3.4).text("\u2212"+f2(q50[i]-q16[i]));
  const wm = m.node().getComputedTextLength();
  const ws = Math.max(sp.node().getComputedTextLength(), sb.node().getComputedTextLength());
  const sx0 = cx-(wm+ws+1)/2;
  m.attr("x",sx0); sp.attr("x",sx0+wm+1.5); sb.attr("x",sx0+wm+1.5);
});

// contours
const contourPanels = [
 [0,1,c_inc_beta],[0,2,c_inc_ml],[0,3,c_inc_lr],[0,4,c_inc_rs],[0,5,c_inc_slope],
 [1,2,c_beta_ml],[1,3,c_beta_lr],[1,4,c_beta_rs],[1,5,c_beta_slope],
 [2,3,c_ml_lr],[2,4,c_ml_rs],[2,5,c_ml_slope],
 [3,4,c_lr_rs],[3,5,c_lr_slope],
 [4,5,c_rs_slope]];
contourPanels.forEach(([i,j,list])=>{
  const x = sX[i], y = sY[j];
  const g = svg.append("g").attr("clip-path",`url(#cp${i}${j})`);
  const open = d3.line().x(d=>x(d[0])).y(d=>y(d[1])).curve(d3.curveCatmullRom.alpha(0.5));
  const closed = d3.line().x(d=>x(d[0])).y(d=>y(d[1])).curve(d3.curveCatmullRomClosed.alpha(0.5));
  list.forEach(c=>{
    g.append("path").attr("d", c.t==="L" ? open(c.p) : closed(c.p))
      .attr("fill", c.t==="F" ? "#000" : "none")
      .attr("stroke","#000").attr("stroke-width",1.8).attr("stroke-linejoin","round");
  });
});

// frames, ticks, labels
for (let j=0;j<6;j++) for (let i=0;i<=j;i++) {
  const px = X0+G*i, py = Y0+G*j;
  svg.append("rect").attr("x",px).attr("y",py).attr("width",P).attr("height",P)
    .attr("fill","none").attr("stroke","#000").attr("stroke-width",1.1);
  const bx = svg.append("g").attr("transform",`translate(0,${py+P})`)
    .call(d3.axisBottom(sX[i]).tickValues(ticks[i]).tickSize(3.5).tickFormat(""));
  bx.select(".domain").remove();
  bx.selectAll("line").attr("stroke-width",1);
  if (j>i) {
    const ly = svg.append("g").attr("transform",`translate(${px},0)`)
      .call(d3.axisLeft(sY[j]).tickValues(ticks[j]).tickSize(3.5).tickFormat(""));
    ly.select(".domain").remove();
    ly.selectAll("line").attr("stroke-width",1);
  }
}
// x tick labels (bottom row) and axis titles
const bottom = Y0+G*5+P;
for (let i=0;i<6;i++) {
  const fmt = d3.format(tickFormats[i]);
  ticks[i].forEach(v=>{
    const t = svg.append("text").attr("font-size",FS).attr("text-anchor","middle").attr("y",0.365*FS).text(fmt(v));
    const w = t.node().getComputedTextLength();
    const half = (w+0.73*FS)*0.3535;
    t.attr("transform",`translate(${sX[i](v)},${bottom+13+half}) rotate(-45)`);
  });
  svg.append("text").attr("font-size",13.9).attr("text-anchor","middle")
    .attr("x",X0+G*i+P/2).attr("y",1361).text(params[i]);
}
// y tick labels (first column) and axis titles
for (let j=1;j<6;j++) {
  const fmt = d3.format(tickFormats[j]);
  ticks[j].forEach(v=>{
    const t = svg.append("text").attr("font-size",FS).attr("text-anchor","middle").attr("y",0.365*FS).text(fmt(v));
    const w = t.node().getComputedTextLength();
    const half = (w+0.73*FS)*0.3535;
    t.attr("transform",`translate(${X0-14-half},${sY[j](v)+10}) rotate(-45)`);
  });
  svg.append("text").attr("font-size",13.9).attr("text-anchor","middle")
    .attr("transform",`translate(37,${Y0+G*j+P/2}) rotate(-90)`).text(params[j]);
}
</script></body></html>
